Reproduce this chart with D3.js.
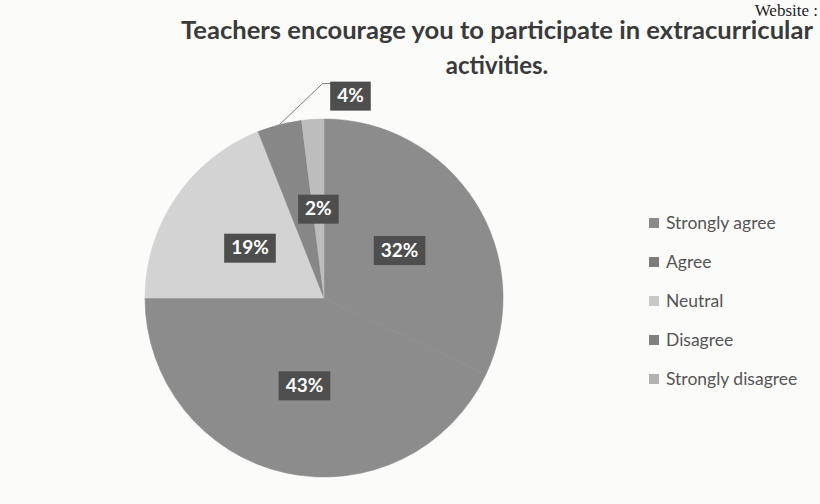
<!DOCTYPE html>
<html>
<head>
<meta charset="utf-8">
<script src="https://cdn.jsdelivr.net/npm/d3@7"></script>
<style>
  html, body { margin: 0; padding: 0; background: #fbfbfa; }
  svg { display: block; }
</style>
</head>
<body>
<div id="chart"></div>
<script>
// answers, in the order the pie draws them (clockwise from 12 o'clock)
var categories = ["Strongly agree", "Agree", "Neutral", "Disagree", "Strongly disagree"];
var percents = [32, 43, 19, 4, 2];
var sliceColors = ["#8c8c8c", "#8c8c8c", "#d3d3d3", "#878787", "#bdbdbd"];
var swatchColors = ["#8a8a8a", "#7c7c7c", "#c9c9c9", "#7f7f7f", "#b3b3b3"];
var titleLines = ["Teachers encourage you to participate in extracurricular", "activities."];
var cornerText = "Website :";

var width = 820, height = 504;
var cx = 324, cy = 298, radius = 179;

var svg = d3.select("#chart").append("svg")
  .attr("width", width)
  .attr("height", height);

svg.append("rect")
  .attr("width", width)
  .attr("height", height)
  .attr("fill", "#fbfbfa");

// scan header text, top right
svg.append("text")
  .attr("x", 818)
  .attr("y", 16)
  .attr("text-anchor", "end")
  .style("font", "17px 'Liberation Serif', 'DejaVu Serif', serif")
  .style("fill", "#222")
  .text(cornerText);

var title = svg.append("g");
title.selectAll("text")
  .data(titleLines)
  .enter().append("text")
  .attr("x", 497)
  .attr("y", function(d, i) { return 39 + i * 35; })
  .attr("text-anchor", "middle")
  .style("font-family", "Lato, 'Open Sans', sans-serif")
  .style("font-weight", "bold")
  .style("font-size", "24px")
  .style("fill", "#3a3a3a")
  .text(function(d) { return d; })
  .each(function(d, i) {
    // keep the first line the same width as the scan
    if (i === 0) {
      var w = this.getComputedTextLength();
      if (Math.abs(w - 632) > 4) {
        d3.select(this).attr("textLength", 632).attr("lengthAdjust", "spacingAndGlyphs");
      }
    }
  });

var pieData = categories.map(function(c, i) {
  return { label: c, value: percents[i], color: sliceColors[i] };
});

var pie = d3.pie()
  .sort(null)
  .value(function(d) { return d.value; });

var arc = d3.arc().innerRadius(0).outerRadius(radius);
var labelArc = d3.arc().innerRadius(radius * 0.5).outerRadius(radius * 0.5);
var edgeArc = d3.arc().innerRadius(radius).outerRadius(radius);

var arcs = pie(pieData);

var g = svg.append("g")
  .attr("transform", "translate(" + cx + "," + cy + ")");

g.selectAll(".slice")
  .data(arcs)
  .enter().append("path")
  .attr("class", "slice")
  .attr("d", arc)
  .attr("fill", function(d) { return d.data.color; })
  .attr("stroke", function(d) { return d.data.color; })
  .attr("stroke-width", 0.6);

// Disagree label sits outside the pie with a leader line
function isOutside(d) { return d.data.label === "Disagree"; }

function labelPos(d) {
  if (isOutside(d)) {
    var p = edgeArc.centroid(d);
    return [p[0] + 71, p[1] - 29];
  }
  return labelArc.centroid(d);
}

arcs.filter(isOutside).forEach(function(d) {
  var p0 = edgeArc.centroid(d);
  var lp = labelPos(d);
  var p1 = [p0[0] + 43, lp[1] - 12];
  var p2 = [lp[0] - 17, lp[1] - 12];
  g.append("polyline")
    .attr("points", [p0, p1, p2].map(function(p) { return p.join(","); }).join(" "))
    .attr("fill", "none")
    .attr("stroke", "#7a7a7a")
    .attr("stroke-width", 1);
});

var labels = g.selectAll(".label")
  .data(arcs)
  .enter().append("g")
  .attr("class", "label")
  .attr("transform", function(d) { return "translate(" + labelPos(d) + ")"; });

labels.append("text")
  .attr("text-anchor", "middle")
  .attr("dy", "0.35em")
  .style("font-family", "Lato, 'Open Sans', sans-serif")
  .style("font-weight", "bold")
  .style("font-size", "19px")
  .style("fill", "#ffffff")
  .text(function(d) { return d.data.value + "%"; })
  .each(function() {
    var bb = this.getBBox();
    d3.select(this.parentNode).insert("rect", "text")
      .attr("x", bb.x - 7)
      .attr("y", -14)
      .attr("width", bb.width + 14)
      .attr("height", 29)
      .attr("fill", "#4e4e4e");
  });

// legend
var legend = svg.append("g")
  .attr("transform", "translate(649,223)");

var rows = legend.selectAll(".row")
  .data(pieData)
  .enter().append("g")
  .attr("class", "row")
  .attr("transform", function(d, i) { return "translate(0," + (i * 39) + ")"; });

rows.append("rect")
  .attr("x", 0)
  .attr("y", -5)
  .attr("width", 10)
  .attr("height", 10)
  .attr("fill", function(d, i) { return swatchColors[i]; });

rows.append("text")
  .attr("x", 17)
  .attr("dy", "0.35em")
  .style("font-family", "Lato, 'Open Sans', sans-serif")
  .style("font-size", "17.5px")
  .style("fill", "#555")
  .text(function(d) { return d.label; });
</script>
</body>
</html>
